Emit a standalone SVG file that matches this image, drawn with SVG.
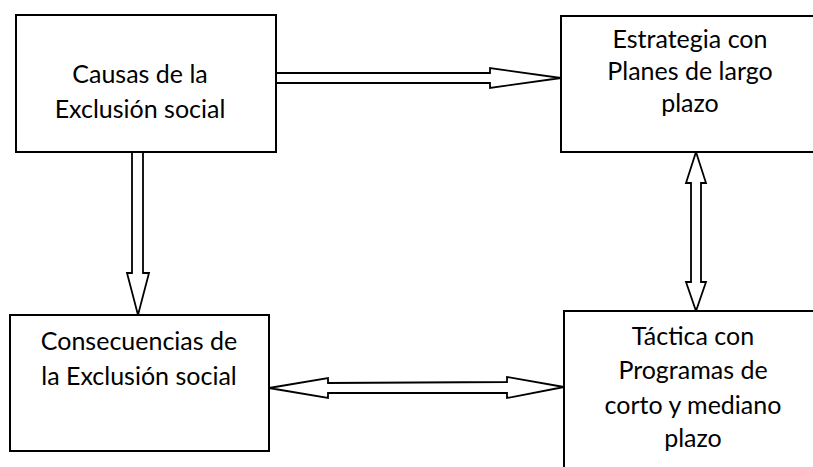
<svg xmlns="http://www.w3.org/2000/svg" width="813" height="467" viewBox="0 0 813 467">
<style>
.box{fill:#fff;stroke:#000;stroke-width:2}
.arr{fill:#fff;stroke:#000;stroke-width:1.8;stroke-linejoin:miter}
text{font-family:Lato,"Open Sans","Liberation Sans",sans-serif;font-size:25px;fill:#000;text-anchor:middle}
</style>
<rect width="813" height="467" fill="#fff"/>
<g id="connectors">
<polygon class="arr" points="276,73 490,73 490,68 561,78 490,88 490,83 276,83"/>
<polygon class="arr" points="132,152 143,152 143,273 149,273 138,315 127,273 132,273"/>
<polygon class="arr" points="696,152 706,183 701,183 701,282 706,282 696,311 686,282 691,282 691,183 686,183"/>
<polygon class="arr" points="269,388 328,378 328,383 507,382 507,377 564,387 507,398 507,393 328,393 328,398"/>
</g>
<g id="causas">
<rect class="box" x="16" y="15" width="260" height="137"/>
<text x="140" y="83">Causas de la</text>
<text x="140" y="118">Exclusión social</text>
</g>
<g id="estrategia">
<rect class="box" x="561" y="16" width="270" height="136"/>
<text x="690" y="48">Estrategia con</text>
<text x="690" y="80">Planes de largo</text>
<text x="690" y="112">plazo</text>
</g>
<g id="consecuencias">
<rect class="box" x="10" y="315" width="259" height="136"/>
<text x="139" y="350">Consecuencias de</text>
<text x="139" y="385">la Exclusión social</text>
</g>
<g id="tactica">
<rect class="box" x="564" y="311" width="270" height="170"/>
<text x="693" y="345">Táctica con</text>
<text x="693" y="379">Programas de</text>
<text x="693" y="414">corto y mediano</text>
<text x="693" y="447">plazo</text>
</g>
</svg>
